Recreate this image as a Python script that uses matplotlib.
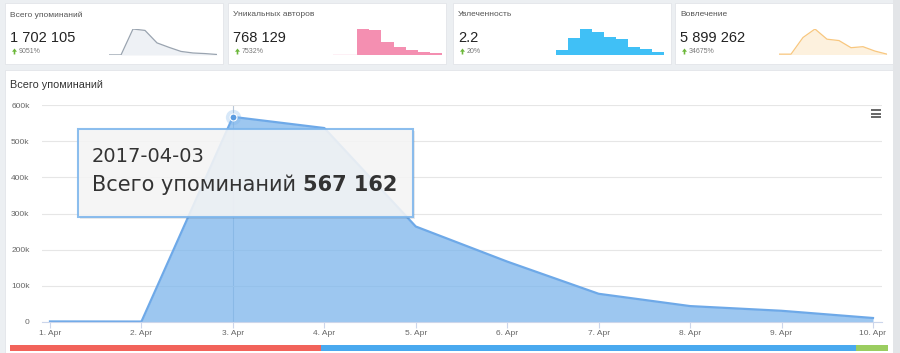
import matplotlib.pyplot as plt
from matplotlib.patches import Rectangle

plt.rcParams['font.family'] = ['Liberation Sans', 'DejaVu Sans']

# --- данные ---
days = ['1. Apr', '2. Apr', '3. Apr', '4. Apr', '5. Apr',
        '6. Apr', '7. Apr', '8. Apr', '9. Apr', '10. Apr']
mentions = [1500, 1200, 567162, 536243, 264000, 167000, 78000, 44000, 31000, 11000]
authors = [600, 500, 239000, 233000, 121000, 78000, 47000, 25000, 15500, 9000]
passion = [1.3, 2.0, 2.54, 2.34, 2.04, 1.96, 1.5, 1.34, 1.2, 1.1]
involvement = [22000, 22000, 1105000, 1657000, 995000, 906000, 442000, 508000, 221000, 22000]

card_titles = ['Всего упоминаний', 'Уникальных авторов', 'Увлеченность', 'Вовлечение']
card_values = ['1 702 105', '768 129', '2.2', '5 899 262']
card_growth = ['9051%', '7532%', '20%', '34675%']
y_ticks = [0, 100000, 200000, 300000, 400000, 500000, 600000]
y_labels = ['0', '100k', '200k', '300k', '400k', '500k', '600k']

W, H = 900, 353
fig = plt.figure(figsize=(9, 3.53), dpi=100, facecolor='#eceff2')


def box(x, y, w, h):
    return [x / W, 1 - (y + h) / H, w / W, h / H]


def overlay(z):
    o = fig.add_axes([0, 0, 1, 1])
    o.set_xlim(0, W)
    o.set_ylim(H, 0)
    o.axis('off')
    o.set_zorder(z)
    o.patch.set_alpha(0)
    return o


bg = overlay(-5)
fg = overlay(10)

# --- карточки ---
cards_x = [5, 228, 453, 675]
card_w = 218
for i, cx in enumerate(cards_x):
    bg.add_patch(Rectangle((cx, 3), card_w, 61, facecolor='white', edgecolor='#e2e5e9', lw=0.6))
    bg.text(cx + 5, 15, card_titles[i], fontsize=6, color='#555555', va='center')
    bg.text(cx + 5, 38, card_values[i], fontsize=10.5, color='#222222', va='center')
    bg.arrow(cx + 9.5, 54.5, 0, -6, width=1.6, head_width=5, head_length=3.2,
             length_includes_head=True, color='#6cb83a', lw=0)
    bg.text(cx + 14, 51.5, card_growth[i], fontsize=5, color='#777777', va='center')

xs = list(range(len(days)))

# спарклайн 1 — линия
s1 = fig.add_axes(box(109, 29, 108, 26))
s1.fill_between(xs, mentions, color='#eef1f5', lw=0)
s1.plot(xs, mentions, color='#9aa4b0', lw=0.9)
s1.set_ylim(0, max(mentions))

# спарклайн 2 — ступени
s2 = fig.add_axes(box(333, 29, 109, 26))
s2.fill_between(xs, authors, step='post', color='#f48fb1', lw=0)
s2.plot([0, 2], [0, 0], color='#f8b7cd', lw=1)
s2.set_ylim(0, max(authors))

# спарклайн 3 — ступени
s3 = fig.add_axes(box(556, 29, 108, 26))
s3.fill_between(xs, passion, 1.0, step='post', color='#40c0f6', lw=0)
s3.set_ylim(1.0, max(passion))

# спарклайн 4 — линия
s4 = fig.add_axes(box(779, 29, 108, 25.5))
s4.fill_between(xs, involvement, color='#fdf1de', lw=0)
s4.plot(xs, involvement, color='#f8c77f', lw=0.9)
s4.set_ylim(0, max(involvement))

for s in (s1, s2, s3, s4):
    s.set_xlim(0, 9)
    s.axis('off')
    s.patch.set_alpha(0)

# --- основная панель ---
bg.add_patch(Rectangle((5, 70), 888, 290, facecolor='white', edgecolor='#e2e5e9', lw=0.6))
bg.add_patch(Rectangle((893, 0), 7, H, facecolor='#e3e5e8', lw=0))
bg.text(10, 85, 'Всего упоминаний', fontsize=7.8, color='#333333', va='center')

ax = fig.add_axes(box(42, 105, 840, 217))
ax.patch.set_alpha(0)
ax.fill_between(xs, mentions, color='#7cb5ec', alpha=0.75, lw=0)
ax.plot(xs, mentions, color='#6ea9e8', lw=1.6)
ax.axvline(2, color='#b7c7d8', lw=0.8, zorder=0.5)
ax.plot(2, mentions[2], 'o', ms=11, color='#7cb5ec', alpha=0.3, mew=0)
ax.plot(2, mentions[2], 'o', ms=5, color='#5b9be0', mec='white', mew=0.8)
ax.set_xlim(-0.0875, 9.0985)
ax.set_ylim(0, 600000)
ax.set_xticks(xs, days)
ax.set_yticks(y_ticks, y_labels)
ax.grid(axis='y', color='#e6e6e6', lw=0.8)
ax.set_axisbelow(True)
for sp in ('top', 'right', 'left'):
    ax.spines[sp].set_visible(False)
ax.spines['bottom'].set_color('#ccd6eb')
ax.tick_params(axis='x', length=4, color='#ccd6eb', labelsize=6, labelcolor='#666666', pad=2)
ax.tick_params(axis='y', length=0, labelsize=6, labelcolor='#666666', pad=9)

# --- подсказка ---
fg.add_patch(Rectangle((80, 131), 335, 88, facecolor='#000000', alpha=0.08, lw=0))
fg.add_patch(Rectangle((78, 129), 335, 88, facecolor='#f7f7f7', alpha=0.88,
                       edgecolor='#7cb5ec', lw=1.5))
fg.text(92, 157, '2017-04-03', fontsize=14, color='#333333', va='center',
        family='DejaVu Sans')
t1 = fg.text(92, 185, 'Всего упоминаний ', fontsize=15, color='#333333', va='center',
             family='DejaVu Sans')
r = fig.canvas.get_renderer()
ext = t1.get_window_extent(r)
x_end = fg.transData.inverted().transform((ext.x1, ext.y0))[0]
fg.text(x_end, 185, '567 162', fontsize=15, color='#333333', va='center',
        family='DejaVu Sans', weight='bold')

# меню
for yy in (110, 113.5, 117):
    fg.plot([871, 881], [yy, yy], color='#666666', lw=1.4, solid_capstyle='butt')

# цветная полоса снизу
fg.add_patch(Rectangle((10, 345), 311, 6, facecolor='#f2635a', lw=0))
fg.add_patch(Rectangle((321, 345), 535, 6, facecolor='#49a9ef', lw=0))
fg.add_patch(Rectangle((856, 345), 32, 6, facecolor='#9bcd60', lw=0))

fig.savefig('out.png', dpi=100, facecolor=fig.get_facecolor())
